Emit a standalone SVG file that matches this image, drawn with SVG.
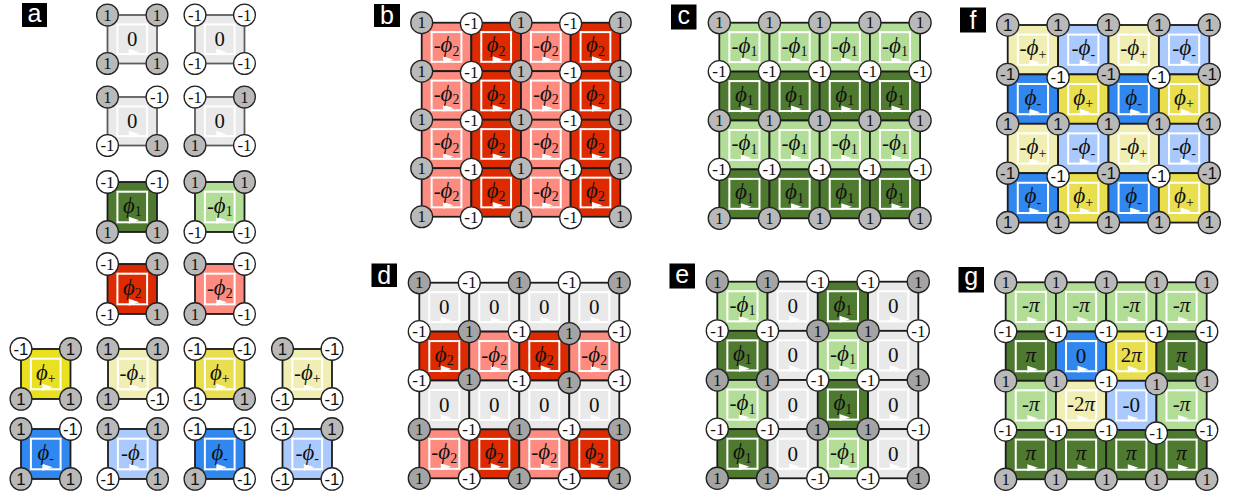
<svg xmlns="http://www.w3.org/2000/svg" xmlns:xlink="http://www.w3.org/1999/xlink" width="1233" height="502" viewBox="0 0 1233 502">
<style>
svg{font-family:"Liberation Serif","DejaVu Serif",serif}
.o{stroke:#1b1b1b;stroke-width:1.8}
.oa{stroke:#5c5c5c;stroke-width:1.8}
.i{fill:none;stroke:#fff;stroke-width:2}
.ar{fill:#fff}
.cg{fill:#b9b9b9;stroke:#222;stroke-width:1.3}
.cd{fill:#a4a4a4;stroke:#222;stroke-width:1.3}
.cw{fill:#fff;stroke:#222;stroke-width:1.3}
.t{font-size:17px;text-anchor:middle;fill:#111}
.l{font-family:"Liberation Serif","DejaVu Serif",serif;font-size:21px;text-anchor:middle;fill:#111}
.s{font-size:14px}
.it{font-style:italic}
.ph{font-style:italic;font-size:23px}
.fg{fill:#e9e9e9}.fr{fill:#de2a00}.fs{fill:#fd8b80}.fdg{fill:#4e7a30}.flg{fill:#b2dd96}
.fy{fill:#e8de4e}.fyb{fill:#e9e01f}.fly{fill:#f0eeb2}.fb{fill:#2f87ef}.flb{fill:#aac9fc}
.lab rect{fill:#000}
.lab text{font-family:"Liberation Sans",Arial,sans-serif;font-size:25px;fill:#fff;text-anchor:middle}
.sans{font-family:"Liberation Sans",Arial,sans-serif}
.sans .t{font-size:16px}
</style>
<defs>
<g id="cell"><rect class="o" width="50" height="49"/><rect class="i" x="10" y="9.5" width="30" height="30"/><path class="ar" d="M21.5,34 L32,37.5 L21.5,41 Z"/></g>
<g id="cellA"><rect class="oa" width="50" height="49"/><rect class="i" x="10" y="9.5" width="30" height="30"/><path class="ar" d="M21.5,34 L32,37.5 L21.5,41 Z"/></g>
<g id="cZ"><use href="#cell" class="fg"/><text class="l" x="25" y="31.5">0</text></g>
<g id="cZa"><use href="#cellA" class="fg"/><text class="l" x="25" y="31.5">0</text></g>
<g id="cP1"><use href="#cell" class="fdg"/><text class="l" x="25" y="30"><tspan class="ph">ϕ</tspan><tspan class="s" dy="3.5">1</tspan></text></g>
<g id="cM1"><use href="#cell" class="flg"/><text class="l" x="25" y="30">-<tspan class="ph">ϕ</tspan><tspan class="s" dy="3.5">1</tspan></text></g>
<g id="cP2"><use href="#cell" class="fr"/><text class="l" x="25" y="30"><tspan class="ph">ϕ</tspan><tspan class="s" dy="3.5">2</tspan></text></g>
<g id="cM2"><use href="#cell" class="fs"/><text class="l" x="25" y="30">-<tspan class="ph">ϕ</tspan><tspan class="s" dy="3.5">2</tspan></text></g>
<g id="cPP"><use href="#cell" class="fy"/><text class="l" x="25" y="30"><tspan class="ph">ϕ</tspan><tspan class="s" dy="3.5">+</tspan></text></g>
<g id="cPPb"><use href="#cell" class="fyb"/><text class="l" x="25" y="30"><tspan class="ph">ϕ</tspan><tspan class="s" dy="3.5">+</tspan></text></g>
<g id="cMP"><use href="#cell" class="fly"/><text class="l" x="25" y="30">-<tspan class="ph">ϕ</tspan><tspan class="s" dy="3.5">+</tspan></text></g>
<g id="cPM"><use href="#cell" class="fb"/><text class="l" x="25" y="30"><tspan class="ph">ϕ</tspan><tspan class="s" dy="3.5">-</tspan></text></g>
<g id="cMM"><use href="#cell" class="flb"/><text class="l" x="25" y="30">-<tspan class="ph">ϕ</tspan><tspan class="s" dy="3.5">-</tspan></text></g>
<g id="gPi"><use href="#cell" class="fdg"/><text class="l" x="25" y="30"><tspan class="it">π</tspan></text></g>
<g id="gMPi"><use href="#cell" class="flg"/><text class="l" x="25" y="30">-<tspan class="it">π</tspan></text></g>
<g id="g0"><use href="#cell" class="fb"/><text class="l" x="25" y="31.5">0</text></g>
<g id="g2Pi"><use href="#cell" class="fy"/><text class="l" x="25" y="30">2<tspan class="it">π</tspan></text></g>
<g id="gM2Pi"><use href="#cell" class="fly"/><text class="l" x="25" y="30">-2<tspan class="it">π</tspan></text></g>
<g id="gM0"><use href="#cell" class="flb"/><text class="l" x="25" y="31.5">-0</text></g>
<g id="P"><circle class="cg" r="11"/><text class="t" y="5.8">1</text></g>
<g id="P2"><circle class="cd" r="11"/><text class="t" y="5.8">1</text></g>
<g id="M"><circle class="cw" r="11"/><text class="t" y="5.8">-1</text></g>
<g id="GM"><circle class="cg" r="11"/><text class="t" y="5.8">-1</text></g>
</defs>
<rect width="1233" height="502" fill="#fff"/>

<g id="labels" class="lab">
<g id="label-a"><rect x="22" y="3" width="25" height="24"/><text x="34.5" y="21.5">a</text></g>
<g id="label-b"><rect x="374" y="4" width="26" height="23"/><text x="387" y="23.5">b</text></g>
<g id="label-c"><rect x="671" y="4.5" width="25.5" height="25"/><text x="683.8" y="24">c</text></g>
<g id="label-d"><rect x="371.5" y="263.5" width="25.5" height="23.5"/><text x="384.2" y="283.5">d</text></g>
<g id="label-e"><rect x="669.5" y="263.5" width="25.5" height="25"/><text x="682.2" y="283">e</text></g>
<g id="label-f"><rect x="960" y="7.5" width="26" height="25"/><text x="973" y="28.5">f</text></g>
<g id="label-g"><rect x="958.5" y="267" width="25.5" height="25.5"/><text x="971.2" y="284.5">g</text></g>
</g>

<g id="panel-a">
<g id="a-r1c1" transform="translate(107.5,15) scale(0.99)"><use href="#cZa"/><use href="#P"/><use href="#P" x="50"/><use href="#P" y="49"/><use href="#P" x="50" y="49"/></g>
<g id="a-r1c2" transform="translate(195,15) scale(0.99)"><use href="#cZa"/><use href="#M"/><use href="#M" x="50"/><use href="#M" y="49"/><use href="#M" x="50" y="49"/></g>
<g id="a-r2c1" transform="translate(107.5,97) scale(0.99)"><use href="#cZa"/><use href="#P"/><use href="#M" x="50"/><use href="#M" y="49"/><use href="#P" x="50" y="49"/></g>
<g id="a-r2c2" transform="translate(195,97) scale(0.99)"><use href="#cZa"/><use href="#M"/><use href="#P" x="50"/><use href="#P" y="49"/><use href="#M" x="50" y="49"/></g>
<g id="a-r3c1" transform="translate(107.5,182) scale(0.99,1.02)"><use href="#cP1"/><use href="#M"/><use href="#M" x="50"/><use href="#P" y="49"/><use href="#P" x="50" y="49"/></g>
<g id="a-r3c2" transform="translate(195,182) scale(0.99,1.02)"><use href="#cM1"/><use href="#P"/><use href="#P" x="50"/><use href="#M" y="49"/><use href="#M" x="50" y="49"/></g>
<g id="a-r4c1" transform="translate(107.5,264) scale(0.99,1.02)"><use href="#cP2"/><use href="#M"/><use href="#P" x="50"/><use href="#M" y="49"/><use href="#P" x="50" y="49"/></g>
<g id="a-r4c2" transform="translate(195,264) scale(0.99,1.02)"><use href="#cM2"/><use href="#P"/><use href="#M" x="50"/><use href="#P" y="49"/><use href="#M" x="50" y="49"/></g>
<g class="sans">
<g id="a-r5c1" transform="translate(21,349) scale(0.99,1.02)"><use href="#cPPb"/><use href="#M"/><use href="#P" x="50"/><use href="#P" y="49"/><use href="#P" x="50" y="49"/></g>
<g id="a-r5c2" transform="translate(108,349) scale(0.99,1.02)"><use href="#cMP"/><use href="#P"/><use href="#P" x="50"/><use href="#P" y="49"/><use href="#M" x="50" y="49"/></g>
<g id="a-r5c3" transform="translate(195,349) scale(0.99,1.02)"><use href="#cPP"/><use href="#M"/><use href="#M" x="50"/><use href="#M" y="49"/><use href="#P" x="50" y="49"/></g>
<g id="a-r5c4" transform="translate(282.5,349) scale(0.99,1.02)"><use href="#cMP"/><use href="#P"/><use href="#M" x="50"/><use href="#M" y="49"/><use href="#M" x="50" y="49"/></g>
<g id="a-r6c1" transform="translate(21,429) scale(0.99,1.02)"><use href="#cPM"/><use href="#P"/><use href="#M" x="50"/><use href="#P" y="49"/><use href="#P" x="50" y="49"/></g>
<g id="a-r6c2" transform="translate(108,429) scale(0.99,1.02)"><use href="#cMM"/><use href="#P"/><use href="#P" x="50"/><use href="#M" y="49"/><use href="#P" x="50" y="49"/></g>
<g id="a-r6c3" transform="translate(195,429) scale(0.99,1.02)"><use href="#cPM"/><use href="#M"/><use href="#M" x="50"/><use href="#P" y="49"/><use href="#M" x="50" y="49"/></g>
<g id="a-r6c4" transform="translate(282.5,429) scale(0.99,1.02)"><use href="#cMM"/><use href="#M"/><use href="#P" x="50"/><use href="#M" y="49"/><use href="#M" x="50" y="49"/></g>
</g>
</g>

<g id="panel-b" transform="translate(421.7,22.7) scale(0.993,0.99)">
<g id="b-cells">
<use href="#cM2" x="0" y="0"/><use href="#cP2" x="50" y="0"/><use href="#cM2" x="100" y="0"/><use href="#cP2" x="150" y="0"/>
<use href="#cM2" x="0" y="49"/><use href="#cP2" x="50" y="49"/><use href="#cM2" x="100" y="49"/><use href="#cP2" x="150" y="49"/>
<use href="#cM2" x="0" y="98"/><use href="#cP2" x="50" y="98"/><use href="#cM2" x="100" y="98"/><use href="#cP2" x="150" y="98"/>
<use href="#cM2" x="0" y="147"/><use href="#cP2" x="50" y="147"/><use href="#cM2" x="100" y="147"/><use href="#cP2" x="150" y="147"/>
</g>
<g id="b-nodes">
<use href="#P" x="0" y="0"/><use href="#M" x="50" y="1"/><use href="#P" x="100" y="0"/><use href="#M" x="150" y="1"/><use href="#P" x="200" y="0"/>
<use href="#P" x="0" y="49"/><use href="#M" x="50" y="50"/><use href="#P" x="100" y="49"/><use href="#M" x="150" y="50"/><use href="#P" x="200" y="49"/>
<use href="#P" x="0" y="98"/><use href="#M" x="50" y="99"/><use href="#P" x="100" y="98"/><use href="#M" x="150" y="99"/><use href="#P" x="200" y="98"/>
<use href="#P" x="0" y="147"/><use href="#M" x="50" y="148"/><use href="#P" x="100" y="147"/><use href="#M" x="150" y="148"/><use href="#P" x="200" y="147"/>
<use href="#P" x="0" y="196"/><use href="#M" x="50" y="197"/><use href="#P" x="100" y="196"/><use href="#M" x="150" y="197"/><use href="#P" x="200" y="196"/>
</g>
</g>

<g id="panel-c" transform="translate(719.3,22.7) scale(1.004,0.998)">
<g id="c-cells">
<use href="#cM1" x="0" y="0"/><use href="#cM1" x="50" y="0"/><use href="#cM1" x="100" y="0"/><use href="#cM1" x="150" y="0"/>
<use href="#cP1" x="0" y="49"/><use href="#cP1" x="50" y="49"/><use href="#cP1" x="100" y="49"/><use href="#cP1" x="150" y="49"/>
<use href="#cM1" x="0" y="98"/><use href="#cM1" x="50" y="98"/><use href="#cM1" x="100" y="98"/><use href="#cM1" x="150" y="98"/>
<use href="#cP1" x="0" y="147"/><use href="#cP1" x="50" y="147"/><use href="#cP1" x="100" y="147"/><use href="#cP1" x="150" y="147"/>
</g>
<g id="c-nodes">
<use href="#P" x="0" y="0"/><use href="#P" x="50" y="0"/><use href="#P" x="100" y="0"/><use href="#P" x="150" y="0"/><use href="#P" x="200" y="0"/>
<use href="#M" x="0" y="49"/><use href="#M" x="50" y="49"/><use href="#M" x="100" y="49"/><use href="#M" x="150" y="49"/><use href="#M" x="200" y="49"/>
<use href="#P" x="0" y="98"/><use href="#P" x="50" y="98"/><use href="#P" x="100" y="98"/><use href="#P" x="150" y="98"/><use href="#P" x="200" y="98"/>
<use href="#M" x="0" y="147"/><use href="#M" x="50" y="147"/><use href="#M" x="100" y="147"/><use href="#M" x="150" y="147"/><use href="#M" x="200" y="147"/>
<use href="#P" x="0" y="196"/><use href="#P" x="50" y="196"/><use href="#P" x="100" y="196"/><use href="#P" x="150" y="196"/><use href="#P" x="200" y="196"/>
</g>
</g>

<g id="panel-d" transform="translate(419.3,282.7) scale(1,0.998)">
<g id="d-cells">
<use href="#cZ" x="0" y="0"/><use href="#cZ" x="50" y="0"/><use href="#cZ" x="100" y="0"/><use href="#cZ" x="150" y="0"/>
<use href="#cP2" x="0" y="49"/><use href="#cM2" x="50" y="49"/><use href="#cP2" x="100" y="49"/><use href="#cM2" x="150" y="49"/>
<use href="#cZ" x="0" y="98"/><use href="#cZ" x="50" y="98"/><use href="#cZ" x="100" y="98"/><use href="#cZ" x="150" y="98"/>
<use href="#cM2" x="0" y="147"/><use href="#cP2" x="50" y="147"/><use href="#cM2" x="100" y="147"/><use href="#cP2" x="150" y="147"/>
</g>
<g id="d-nodes">
<use href="#P2" x="0" y="0"/><use href="#M" x="50" y="0"/><use href="#P2" x="100" y="0"/><use href="#M" x="150" y="0"/><use href="#P2" x="200" y="0"/>
<use href="#M" x="0" y="49"/><use href="#P2" x="50" y="49"/><use href="#M" x="100" y="49"/><use href="#P2" x="150" y="51"/><use href="#M" x="200" y="49"/>
<use href="#M" x="0" y="98"/><use href="#P2" x="50" y="97"/><use href="#M" x="100" y="98"/><use href="#P2" x="150" y="100"/><use href="#M" x="200" y="98"/>
<use href="#P2" x="0" y="147"/><use href="#M" x="50" y="147"/><use href="#P2" x="100" y="147"/><use href="#M" x="150" y="147"/><use href="#P2" x="200" y="147"/>
<use href="#P2" x="0" y="196"/><use href="#M" x="50" y="196"/><use href="#P2" x="100" y="196"/><use href="#M" x="150" y="196"/><use href="#P2" x="200" y="196"/>
</g>
</g>

<g id="panel-e" transform="translate(717.3,281.7) scale(1.005,1.003)">
<g id="e-cells">
<use href="#cM1" x="0" y="0"/><use href="#cZ" x="50" y="0"/><use href="#cP1" x="100" y="0"/><use href="#cZ" x="150" y="0"/>
<use href="#cP1" x="0" y="49"/><use href="#cZ" x="50" y="49"/><use href="#cM1" x="100" y="49"/><use href="#cZ" x="150" y="49"/>
<use href="#cM1" x="0" y="98"/><use href="#cZ" x="50" y="98"/><use href="#cP1" x="100" y="98"/><use href="#cZ" x="150" y="98"/>
<use href="#cP1" x="0" y="147"/><use href="#cZ" x="50" y="147"/><use href="#cM1" x="100" y="147"/><use href="#cZ" x="150" y="147"/>
</g>
<g id="e-nodes">
<use href="#P2" x="0" y="0"/><use href="#P2" x="50" y="0"/><use href="#M" x="100" y="0"/><use href="#M" x="150" y="0"/><use href="#P2" x="200" y="0"/>
<use href="#M" x="0" y="49"/><use href="#M" x="50" y="49"/><use href="#P2" x="100" y="49"/><use href="#P2" x="150" y="49"/><use href="#M" x="200" y="49"/>
<use href="#P2" x="0" y="98"/><use href="#P2" x="50" y="98"/><use href="#M" x="100" y="98"/><use href="#M" x="150" y="98"/><use href="#P2" x="200" y="98"/>
<use href="#M" x="0" y="147"/><use href="#M" x="50" y="147"/><use href="#P2" x="100" y="147"/><use href="#P2" x="150" y="147"/><use href="#M" x="200" y="147"/>
<use href="#P2" x="0" y="196"/><use href="#P2" x="50" y="196"/><use href="#M" x="100" y="196"/><use href="#M" x="150" y="196"/><use href="#P2" x="200" y="196"/>
</g>
</g>

<g id="panel-f" class="sans" transform="translate(1007.7,25) scale(1.008,1.008)">
<g id="f-cells">
<use href="#cMP" x="0" y="0"/><use href="#cMM" x="50" y="0"/><use href="#cMP" x="100" y="0"/><use href="#cMM" x="150" y="0"/>
<use href="#cPM" x="0" y="49"/><use href="#cPP" x="50" y="49"/><use href="#cPM" x="100" y="49"/><use href="#cPP" x="150" y="49"/>
<use href="#cMP" x="0" y="98"/><use href="#cMM" x="50" y="98"/><use href="#cMP" x="100" y="98"/><use href="#cMM" x="150" y="98"/>
<use href="#cPM" x="0" y="147"/><use href="#cPP" x="50" y="147"/><use href="#cPM" x="100" y="147"/><use href="#cPP" x="150" y="147"/>
</g>
<g id="f-nodes">
<use href="#P" x="0" y="0"/><use href="#P" x="50" y="0"/><use href="#P" x="100" y="0"/><use href="#P" x="150" y="0"/><use href="#P" x="200" y="0"/>
<use href="#GM" x="0" y="49"/><use href="#M" x="50" y="52"/><use href="#GM" x="100" y="49"/><use href="#M" x="150" y="52"/><use href="#GM" x="200" y="49"/>
<use href="#P" x="0" y="98"/><use href="#P" x="50" y="98"/><use href="#P" x="100" y="98"/><use href="#P" x="150" y="98"/><use href="#P" x="200" y="98"/>
<use href="#GM" x="0" y="147"/><use href="#M" x="50" y="150"/><use href="#GM" x="100" y="147"/><use href="#M" x="150" y="150"/><use href="#GM" x="200" y="147"/>
<use href="#P" x="0" y="196"/><use href="#P" x="50" y="196"/><use href="#P" x="100" y="196"/><use href="#P" x="150" y="196"/><use href="#P" x="200" y="196"/>
</g>
</g>

<g id="panel-g" transform="translate(1005.7,282.3) scale(1.005,1.005)">
<g id="g-cells">
<use href="#gMPi" x="0" y="0"/><use href="#gMPi" x="50" y="0"/><use href="#gMPi" x="100" y="0"/><use href="#gMPi" x="150" y="0"/>
<use href="#gPi" x="0" y="49"/><use href="#g0" x="50" y="49"/><use href="#g2Pi" x="100" y="49"/><use href="#gPi" x="150" y="49"/>
<use href="#gMPi" x="0" y="98"/><use href="#gM2Pi" x="50" y="98"/><use href="#gM0" x="100" y="98"/><use href="#gMPi" x="150" y="98"/>
<use href="#gPi" x="0" y="147"/><use href="#gPi" x="50" y="147"/><use href="#gPi" x="100" y="147"/><use href="#gPi" x="150" y="147"/>
</g>
<g id="g-nodes">
<use href="#P" x="0" y="0"/><use href="#P" x="50" y="0"/><use href="#P" x="100" y="0"/><use href="#P" x="150" y="0"/><use href="#P" x="200" y="0"/>
<use href="#M" x="0" y="49"/><use href="#M" x="50" y="49"/><use href="#M" x="100" y="49"/><use href="#M" x="150" y="49"/><use href="#M" x="200" y="49"/>
<use href="#P" x="0" y="98"/><use href="#P" x="50" y="98"/><use href="#M" x="100" y="98"/><use href="#P" x="150" y="101"/><use href="#P" x="200" y="98"/>
<use href="#M" x="0" y="147"/><use href="#M" x="50" y="147"/><use href="#M" x="100" y="147"/><use href="#M" x="150" y="150"/><use href="#M" x="200" y="147"/>
<use href="#P" x="0" y="196"/><use href="#P" x="50" y="196"/><use href="#P" x="100" y="196"/><use href="#P" x="150" y="196"/><use href="#P" x="200" y="196"/>
</g>
</g>
</svg>
